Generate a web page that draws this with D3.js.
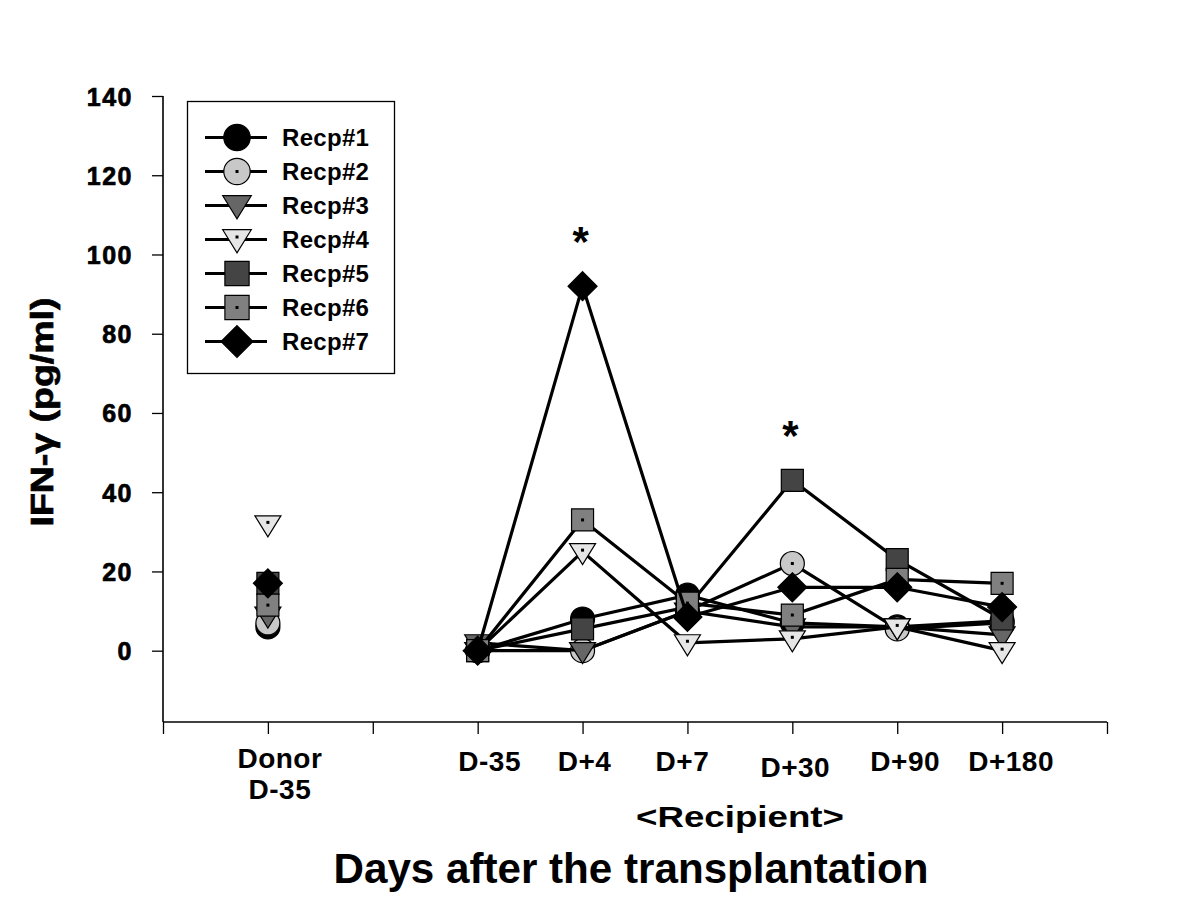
<!DOCTYPE html>
<html>
<head>
<meta charset="utf-8">
<script src="https://cdn.jsdelivr.net/npm/d3@7"></script>
<style>
  html, body { margin: 0; padding: 0; background: #fff; }
  svg { display: block; }
</style>
</head>
<body>
<svg id="chart" width="1200" height="898"></svg>
<script>
// ---- data ----
const xTickLabels = ["", "Donor|D-35", "", "D-35", "D+4", "D+7", "D+30", "D+90", "D+180", ""];
const recipientDays = ["D-35", "D+4", "D+7", "D+30", "D+90", "D+180"];
const seriesNames = ["Recp#1", "Recp#2", "Recp#3", "Recp#4", "Recp#5", "Recp#6", "Recp#7"];
const donorValues = [6, 7, 9, 32, 17, 11.5, 17];
const recp1 = [0, 8, 14, 7, 6, 7.5];
const recp2 = [0, 0, 10, 22, 5.5, 7];
const recp3 = [2, 0, 10, 6, 6, 4];
const recp4 = [0, 25, 2, 3, 6, 0];
const recp5 = [0, 5.5, 11, 43, 23, 8];
const recp6 = [0, 33, 12, 9, 18, 17];
const recp7 = [0, 92, 8.5, 16, 16, 11];
const yTicks = [0, 20, 40, 60, 80, 100, 120, 140];
const significant = ["D+4", "D+30"];

// ---- styles ----
const styles = [
  { shape: "circle",   fill: "#000000", dot: false },
  { shape: "circle",   fill: "#c8c8c8", dot: true },
  { shape: "triDown",  fill: "#666666", dot: false },
  { shape: "triDown",  fill: "#e6e6e6", dot: true },
  { shape: "square",   fill: "#444444", dot: false },
  { shape: "square",   fill: "#808080", dot: true },
  { shape: "diamond",  fill: "#000000", dot: false }
];
const recpValues = [recp1, recp2, recp3, recp4, recp5, recp6, recp7];

const svg = d3.select("#chart");
const x = d3.scaleLinear().domain([0, 9]).range([163, 1107]);
const y = d3.scaleLinear().domain([-18, 140]).range([722, 96]);
const dayIndex = d => 3 + recipientDays.indexOf(d);

function markerPath(shape, k) {
  if (shape === "circle") return d3.symbol().type(d3.symbolCircle).size(Math.PI * 12 * 12 * k * k)();
  if (shape === "square") return `M${-11*k},${-11*k}L${11*k},${-11*k}L${11*k},${11*k}L${-11*k},${11*k}Z`;
  if (shape === "triDown") return `M${-13*k},${-8*k}L${13*k},${-8*k}L0,${13*k}Z`;
  if (shape === "diamond") return `M0,${-14.5*k}L${14.5*k},0L0,${14.5*k}L${-14.5*k},0Z`;
}
function drawMarker(g, st, cx, cy, k = 1) {
  const m = g.append("g").attr("transform", `translate(${cx},${cy})`);
  m.append("path").attr("d", markerPath(st.shape, k))
    .attr("fill", st.fill).attr("stroke", "#000").attr("stroke-width", 1.2);
  if (st.dot) {
    const dy = st.shape === "triDown" ? -1.5 : 0;
    m.append("rect").attr("x", -1.5).attr("y", dy - 1.5).attr("width", 3).attr("height", 3).attr("fill", "#000");
  }
}

const sansFont = "'Liberation Sans', Arial, sans-serif";

// ---- axes ----
const yAxis = d3.axisLeft(y).tickValues(yTicks).tickSize(11).tickPadding(19).tickFormat(d3.format("d"));
const gy = svg.append("g").attr("transform", `translate(${x(0)},0)`).call(yAxis);
gy.select(".domain").attr("d", `M-0,${y(140)}V${y(-18)}`).attr("stroke", "#000").attr("stroke-width", 1.6);
gy.selectAll(".tick line").attr("stroke", "#000").attr("stroke-width", 1.3);
gy.selectAll(".tick text").attr("font-family", sansFont)
  .attr("font-weight", "bold").attr("font-size", 25).attr("fill", "#000")
  .attr("letter-spacing", 1.5).attr("dy", "0.36em")
  .attr("stroke", "#000").attr("stroke-width", 0.7);

const xAxis = d3.axisBottom(x).tickValues(d3.range(0, 10)).tickSize(12).tickFormat("");
const gx = svg.append("g").attr("transform", `translate(0,${y(-18)})`).call(xAxis);
gx.select(".domain").attr("d", `M${x(0)},0H${x(9)}`).attr("stroke", "#000").attr("stroke-width", 1.6);
gx.selectAll(".tick line").attr("stroke", "#000").attr("stroke-width", 1.3);

// x tick labels (label centre offsets from the tick, as placed in the original)
const labelOffsets = { "Donor|D-35": [12, -3], "D-35": [12, 0], "D+4": [2, 0], "D+7": [-5, 0], "D+30": [3, 6], "D+90": [8, 0], "D+180": [9, 0] };
xTickLabels.forEach((lab, i) => {
  if (!lab) return;
  const parts = lab.split("|");
  const off = labelOffsets[lab] || [0, 0];
  const cx = x(i) + off[0];
  const t = svg.append("text")
    .attr("y", 771 + off[1])
    .attr("text-anchor", "middle")
    .attr("font-family", sansFont).attr("font-weight", "bold").attr("font-size", 28)
    .attr("letter-spacing", 0.5).attr("fill", "#000");
  parts.forEach((p, k) => t.append("tspan").attr("x", cx).attr("dy", k === 0 ? 0 : 31).text(p));
});

// axis titles
svg.append("text").attr("x", 740).attr("y", 827).attr("text-anchor", "middle")
  .attr("font-family", sansFont).attr("font-weight", "bold").attr("font-size", 30)
  .attr("textLength", 208).attr("lengthAdjust", "spacingAndGlyphs").text("<Recipient>");
svg.append("text").attr("x", 631).attr("y", 883).attr("text-anchor", "middle")
  .attr("font-family", sansFont).attr("font-weight", "bold").attr("font-size", 42)
  .attr("textLength", 595).attr("lengthAdjust", "spacingAndGlyphs").text("Days after the transplantation");
svg.append("text").attr("transform", `translate(53,412) rotate(-90)`).attr("text-anchor", "middle")
  .attr("font-family", sansFont).attr("font-weight", "bold").attr("font-size", 32)
  .attr("stroke", "#000").attr("stroke-width", 0.7)
  .attr("textLength", 229).attr("lengthAdjust", "spacingAndGlyphs")
  .text("IFN-γ (pg/ml)");

// ---- series ----
const line = d3.line().x((d, i) => x(3 + i)).y(d => y(d));
recpValues.forEach((vals, s) => {
  const g = svg.append("g");
  g.append("path").attr("d", line(vals)).attr("fill", "none").attr("stroke", "#000").attr("stroke-width", 3.2);
  vals.forEach((v, i) => drawMarker(g, styles[s], x(3 + i), y(v)));
});
// donor points
donorValues.forEach((v, s) => drawMarker(svg, styles[s], x(1), y(v)));

// significance asterisks
significant.forEach(d => {
  const idx = recipientDays.indexOf(d);
  const maxV = d3.max(recpValues, vals => vals[idx]);
  svg.append("text").attr("x", x(dayIndex(d)) - 2).attr("y", y(maxV) - 30)
    .attr("text-anchor", "middle").attr("font-family", sansFont)
    .attr("font-weight", "bold").attr("font-size", 42).text("*");
});

// ---- legend ----
const lg = svg.append("g");
lg.append("rect").attr("x", 187.5).attr("y", 101.5).attr("width", 207).attr("height", 272)
  .attr("fill", "#fff").attr("stroke", "#000").attr("stroke-width", 1.3);
seriesNames.forEach((name, s) => {
  const yy = 137.5 + s * 34;
  lg.append("line").attr("x1", 205).attr("x2", 267).attr("y1", yy).attr("y2", yy)
    .attr("stroke", "#000").attr("stroke-width", 3);
  const st = styles[s];
  drawMarker(lg, st, 237, yy + (st.shape === "triDown" ? -1 : 0), 1.1);
  lg.append("text").attr("x", 282).attr("y", yy + 8).attr("font-family", sansFont)
    .attr("font-weight", "bold").attr("font-size", 24).attr("letter-spacing", 0.3).text(name);
});
</script>
</body>
</html>
